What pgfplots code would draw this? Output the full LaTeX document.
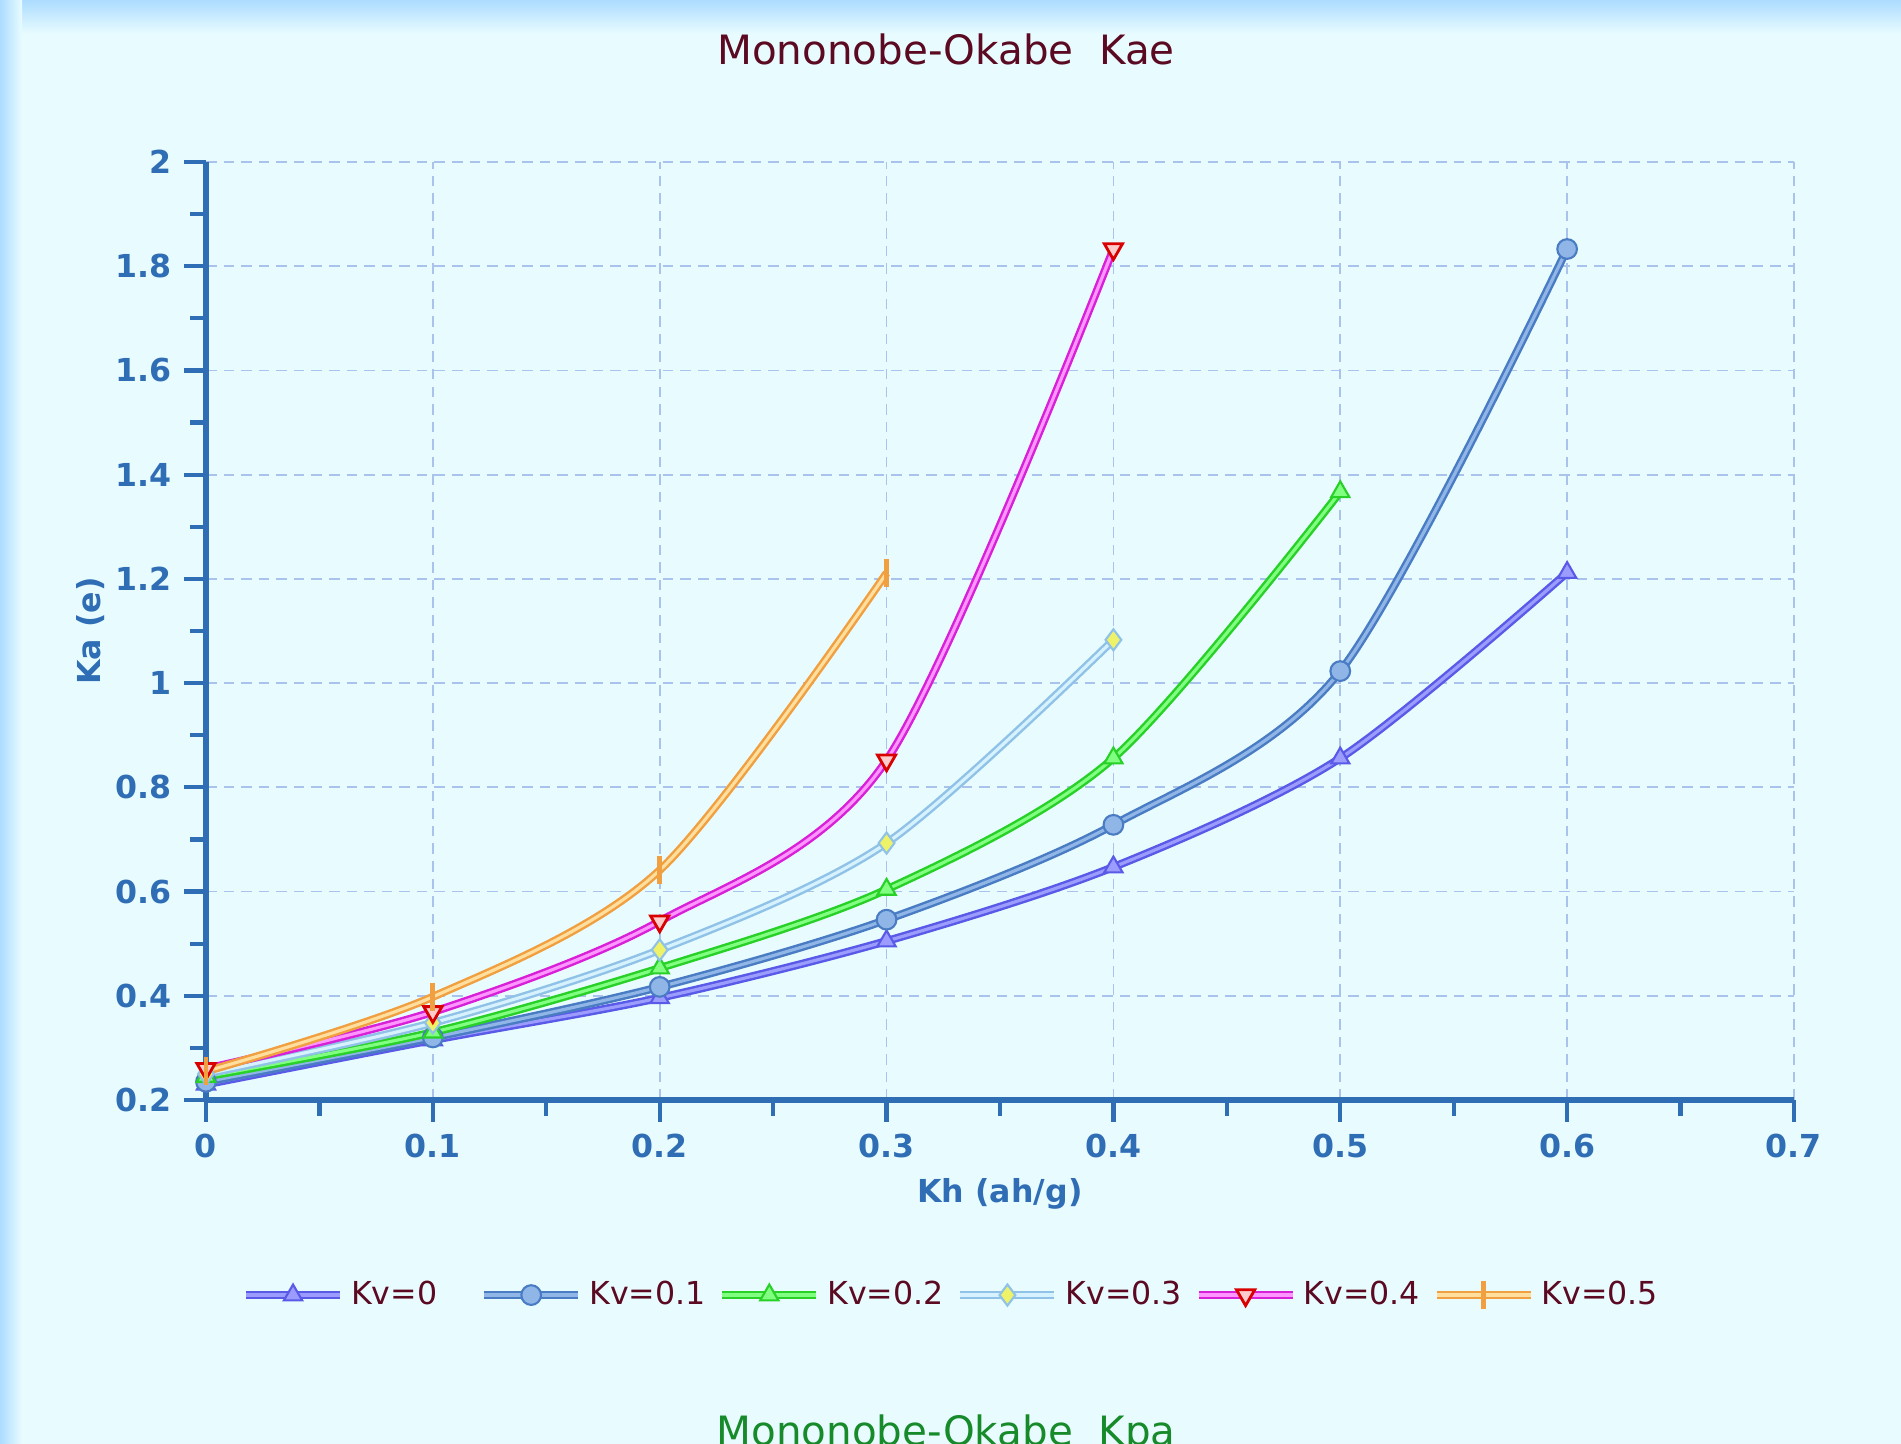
\documentclass[border=0pt]{standalone}
\usepackage{fontspec}
\setmainfont{DejaVu Sans}
\usepackage{pgfplots}
\pgfplotsset{compat=1.18}

\definecolor{bg}{HTML}{E8FCFF}
\definecolor{band}{HTML}{ACDCFF}
\definecolor{axisc}{HTML}{2F6DB5}
\definecolor{gridc}{HTML}{A9C3EC}
\definecolor{titlec}{HTML}{5B0A22}
\definecolor{kpac}{HTML}{178A2A}
% edge / centre colours of the doubled lines
\definecolor{aE}{HTML}{5A5AE8}\definecolor{aC}{HTML}{9C9CFF}
\definecolor{bE}{HTML}{4A7CC4}\definecolor{bC}{HTML}{90B6E8}
\definecolor{cE}{HTML}{28D028}\definecolor{cC}{HTML}{80FF80}
\definecolor{dE}{HTML}{90C2E8}\definecolor{dC}{HTML}{D6F2FF}
\definecolor{eE}{HTML}{D820D8}\definecolor{eC}{HTML}{FF96FF}
\definecolor{fE}{HTML}{F0A040}\definecolor{fC}{HTML}{FFDE9E}

\pgfplotsset{
  kv/.style 2 args={smooth, color=#2, line width=0.9pt,
    preaction={draw=#1, line width=2.3pt}},
}

\begin{document}
\begin{tikzpicture}
\path[use as bounding box] (0,0) rectangle (19.01,14.44);
\fill[bg] (0,0) rectangle (19.01,14.44);
\shade[top color=band, bottom color=bg] (0,14.44) rectangle (19.01,14.1);
\shade[left color=band, right color=bg] (0,0) rectangle (0.22,14.44);
\node[font=\fontsize{11.5}{13}\selectfont, text=titlec] at (9.46,13.95) {Mononobe-Okabe\ \ Kae};
\node[font=\fontsize{11.5}{13}\selectfont, text=kpac, anchor=base] at (9.46,-0.02) {Mononobe-Okabe\ \ Kpa};

\begin{axis}[
  at={(2.06cm,3.44cm)}, anchor=south west,
  scale only axis, width=15.88cm, height=9.38cm,
  xmin=0, xmax=0.7, ymin=0.2, ymax=2,
  xtick={0,0.1,...,0.7}, ytick={0.2,0.4,...,2},
  minor x tick num=1, minor y tick num=1,
  axis lines*=left,
  axis line style={-, draw=axisc, line width=1.5pt},
  tick align=outside,
  major tick length=2.2mm, minor tick length=1.6mm,
  every tick/.style={draw=axisc, line width=1.2pt},
  grid=major,
  major grid style={draw=gridc, line width=0.5pt, dash pattern=on 3pt off 2pt},
  /pgf/number format/assume math mode=true,
  /pgf/number format/fixed,
  tick label style={font=\bfseries\fontsize{9}{10}\selectfont, text=axisc},
  xlabel={Kh (ah/g)}, ylabel={Ka (e)},
  label style={font=\bfseries\fontsize{9}{11}\selectfont, text=axisc},
  x label style={at={(axis description cs:0.5,-0.1)}, anchor=center},
  y label style={at={(axis description cs:-0.0724,0.5)}, anchor=center},
  legend columns=-1,
  legend style={at={(axis description cs:0.471,-0.208)}, anchor=center,
    draw=none, fill=none, font=\fontsize{9}{11}\selectfont, text=titlec,
    /tikz/every even column/.append style={column sep=0.05cm}},
  legend image code/.code={\draw[mark repeat=2,mark phase=2]
    plot coordinates {(0cm,0cm) (0.47cm,0cm) (0.94cm,0cm)};},
]
\addplot[kv={aE}{aC}, mark=triangle*, mark size=3pt,
  mark options={draw=aE, fill=aC, line width=0.6pt}]
  coordinates {(0,0.23) (0.1,0.315) (0.2,0.396) (0.3,0.505) (0.4,0.647) (0.5,0.856) (0.6,1.212)};
\addlegendentry{\makebox[1.17cm][l]{Kv=0}}
\addplot[kv={bE}{bC}, mark=*, mark size=2.8pt,
  mark options={draw=bE, fill=bC, line width=0.6pt}]
  coordinates {(0,0.235) (0.1,0.32) (0.2,0.417) (0.3,0.546) (0.4,0.728) (0.5,1.023) (0.6,1.833)};
\addlegendentry{\makebox[1.17cm][l]{Kv=0.1}}
\addplot[kv={cE}{cC}, mark=triangle*, mark size=3pt,
  mark options={draw=cE, fill=cC, line width=0.6pt}]
  coordinates {(0,0.245) (0.1,0.33) (0.2,0.453) (0.3,0.604) (0.4,0.856) (0.5,1.367)};
\addlegendentry{\makebox[1.17cm][l]{Kv=0.2}}
\addplot[kv={dE}{dC}, mark=diamond*, mark size=3pt,
  mark options={draw=dE, fill={yellow!55!lime!60!white}, line width=0.6pt}]
  coordinates {(0,0.25) (0.1,0.348) (0.2,0.488) (0.3,0.693) (0.4,1.083)};
\addlegendentry{\makebox[1.17cm][l]{Kv=0.3}}
\addplot[kv={eE}{eC}, mark=triangle*, mark size=3pt,
  mark options={rotate=180, draw={red!85!black}, fill={red!20!white}, line width=0.8pt}]
  coordinates {(0,0.26) (0.1,0.369) (0.2,0.543) (0.3,0.852) (0.4,1.833)};
\addlegendentry{\makebox[1.17cm][l]{Kv=0.4}}
\addplot[kv={fE}{fC}, mark=|, mark size=4pt,
  mark options={draw=fE, line width=1.4pt}]
  coordinates {(0,0.255) (0.1,0.398) (0.2,0.641) (0.3,1.211)};
\addlegendentry{\makebox[1.17cm][l]{Kv=0.5}}
\end{axis}
\end{tikzpicture}
\end{document}
